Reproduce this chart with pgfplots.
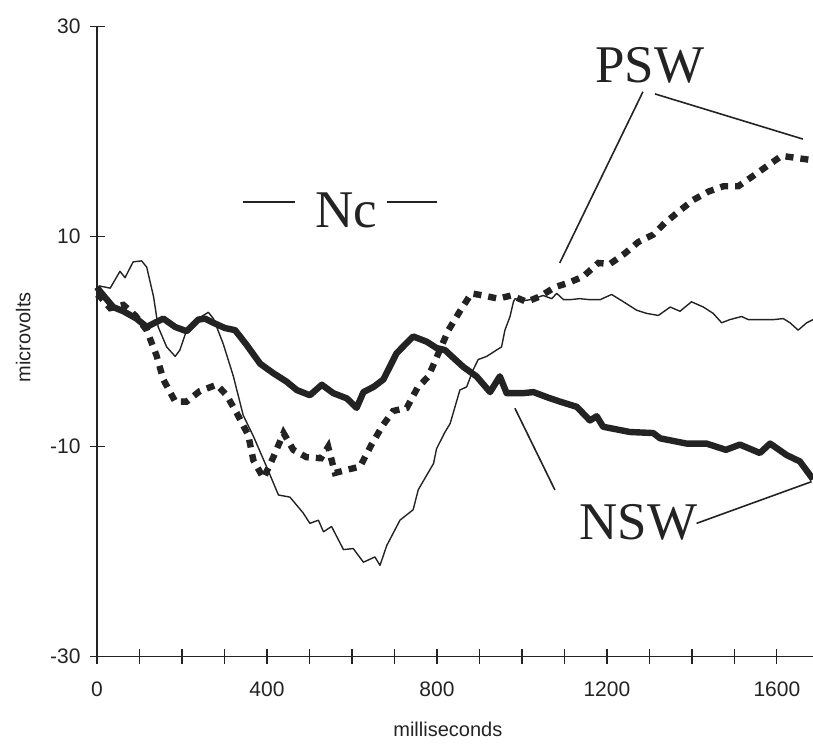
\documentclass[border=0pt]{standalone}
\usepackage{fontspec}
\setmainfont{Liberation Serif}
\setsansfont{Liberation Sans}
\usepackage{pgfplots}
\pgfplotsset{compat=1.18}
\definecolor{ink}{RGB}{35,35,35}
\begin{document}
\begin{tikzpicture}
\begin{axis}[
  at={(48.5pt,43.65pt)}, anchor=south west,
  scale only axis, width=358pt, height=315pt,
  xmin=0, xmax=1685, ymin=-30, ymax=30,
  axis x line=bottom, axis y line=left,
  axis line style={-, ink, line width=0.6pt},
  xtick={0,100,...,1600},
  ytick={-30,-10,10,30},
  xticklabels={0,{},{},{},400,{},{},{},800,{},{},{},1200,{},{},{},1600},
  yticklabels={-30,-10,10,30},
  tick align=center,
  major tick length=7.5pt,
  tick style={ink, line width=0.6pt},
  ticklabel style={font=\sffamily\fontsize{10.5}{12}\selectfont, text=ink},
  xticklabel style={yshift=-5.5pt},
  yticklabel style={xshift=-1pt},
  xlabel={milliseconds}, ylabel={microvolts},
  label style={font=\sffamily\fontsize{10}{12}\selectfont, text=ink},
  xlabel style={at={(axis description cs:0.49,-0.116)}, anchor=center},
  ylabel style={at={(axis description cs:-0.1030,0.507)}, anchor=center},
  clip=false,
]
% thin line
\addplot[ink, line width=0.7pt, line join=round] table {
0 5.2
7 5.3
31 5.1
54 6.7
66 6.1
85 7.6
105 7.7
117 7.1
133 4.3
144 1.4
164 -0.5
184 -1.4
195 -0.8
211 1.1
238 2.2
262 2.8
274 2.2
297 -0.2
321 -3.3
344 -7.0
368 -9.0
399 -11.9
427 -14.6
454 -14.8
485 -16.3
501 -17.3
521 -17.0
533 -18.1
552 -17.6
580 -19.8
603 -19.7
627 -21.0
654 -20.5
666 -21.3
682 -19.4
713 -17.0
744 -16.0
756 -14.1
792 -11.6
799 -10.2
819 -8.6
831 -7.8
854 -4.6
870 -4.3
885 -2.7
897 -1.7
917 -1.4
940 -0.8
952 -0.5
960 1.1
972 2.4
980 3.8
984 4.1
1003 3.9
1019 4.0
1050 4.4
1070 4.1
1082 4.6
1098 4.0
1113 4.0
1136 4.1
1160 4.0
1184 4.0
1211 4.5
1239 3.8
1270 3.0
1293 2.7
1321 2.5
1349 3.3
1372 2.9
1399 3.8
1427 3.3
1450 2.7
1470 1.8
1489 2.1
1517 2.4
1533 2.1
1560 2.1
1591 2.1
1615 2.2
1631 1.8
1650 1.1
1670 1.8
1685 2.1
};
% dotted line (PSW)
\addplot[ink, line width=3.2pt, dash pattern=on 4pt off 3.5pt] table {
0 4.5
7 4.3
31 3.2
62 3.5
90 2.5
117 1.1
140 -1.3
156 -3.6
184 -5.7
211 -5.7
242 -4.7
282 -4.1
305 -5.1
329 -6.8
356 -8.9
368 -11.3
392 -13.0
415 -11.0
439 -8.7
462 -10.3
493 -11.0
527 -11.1
544 -10.0
560 -12.5
588 -12.2
619 -11.9
646 -9.8
672 -8.0
697 -6.6
729 -6.3
754 -4.4
780 -3.3
827 1.1
854 2.9
881 4.6
909 4.4
944 4.1
975 4.4
1011 3.8
1042 4.3
1078 5.2
1109 5.6
1144 6.2
1180 7.5
1207 7.4
1242 8.4
1274 9.5
1309 10.2
1336 11.3
1372 12.5
1403 13.5
1439 14.3
1474 14.8
1509 14.8
1541 15.7
1576 16.7
1611 17.7
1646 17.5
1681 17.3
};
% thick line (NSW)
\addplot[ink, line width=3.2pt, line join=round] table {
0 5.2
7 4.8
38 3.3
62 2.9
93 2.2
117 1.4
136 1.8
156 2.2
184 1.4
211 1.0
238 2.1
254 2.2
274 1.8
301 1.3
325 1.1
352 -0.3
384 -2.1
415 -3.0
446 -3.8
470 -4.6
501 -5.1
529 -4.1
556 -4.9
588 -5.4
611 -6.3
627 -4.8
651 -4.3
674 -3.6
705 -1.1
744 0.5
776 0.0
799 -0.6
819 -0.8
835 -1.4
862 -2.4
893 -3.3
925 -4.8
948 -3.3
964 -4.9
1003 -4.9
1027 -4.8
1060 -5.3
1089 -5.7
1129 -6.2
1160 -7.5
1176 -7.1
1191 -8.1
1254 -8.6
1309 -8.7
1325 -9.2
1387 -9.7
1434 -9.7
1480 -10.3
1513 -9.8
1560 -10.6
1584 -9.7
1623 -10.8
1654 -11.4
1685 -13.1
};
% annotations
\draw[ink, line width=0.8pt] (axis cs:343.5,13.33) -- (axis cs:465.9,13.33);
\draw[ink, line width=0.8pt] (axis cs:681.6,13.33) -- (axis cs:799.3,13.33);
\node[font=\fontsize{26.5}{30}\selectfont, text=ink, inner sep=0pt] at (axis cs:586,12.5) {Nc};
\node[font=\fontsize{26.5}{30}\selectfont, text=ink, inner sep=0pt] at (axis cs:1301,26.35) {PSW};
\draw[ink, line width=0.8pt] (axis cs:1089,7.5) -- (axis cs:1284.7,23.8);
\draw[ink, line width=0.8pt] (axis cs:1661,19.3) -- (axis cs:1313,23.6);
\node[font=\fontsize{26.5}{30}\selectfont, text=ink, inner sep=0pt] at (axis cs:1273.6,-17.17) {NSW};
\draw[ink, line width=0.8pt] (axis cs:983.5,-6.34) -- (axis cs:1077.6,-14.12);
\draw[ink, line width=0.8pt] (axis cs:1411,-17.3) -- (axis cs:1681.6,-13.33);
\end{axis}
\pgfresetboundingbox
\path[use as bounding box] (0,0) rectangle (406.5pt,372pt);
\end{tikzpicture}
\end{document}
